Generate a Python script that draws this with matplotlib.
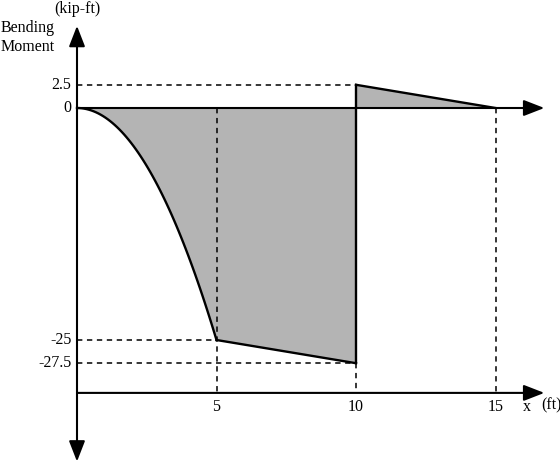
import numpy as np
import matplotlib
matplotlib.use("Agg")
import matplotlib.pyplot as plt

plt.rcParams['font.family'] = ['Liberation Serif', 'DejaVu Serif']

# Data (kip-ft vs ft)
x_para = np.linspace(0, 5, 60)
m_para = -x_para**2            # parabolic segment 0..5 ft
x_lin = [5, 10]
m_lin = [-25, -27.5]
x_pos = [10, 15]
m_pos = [2.5, 0]
y_ticks = [2.5, 0, -25, -27.5]
y_tick_labels = ["2.5", "0", "-25", "-27.5"]
x_ticks = [5, 10, 15]
x_tick_labels = ["5", "10", "15"]

fig = plt.figure(figsize=(5.6, 4.75), dpi=100)
ax = fig.add_axes([0, 0, 1, 1])
ax.set_xlim(-77/27.9, (560-77)/27.9)
ax.set_ylim((108-475)/9.28, 108/9.28)
ax.axis('off')

grey = '#b4b4b4'
lw = 1.7
# fills
xs = np.concatenate([x_para, x_lin[1:]])
ms = np.concatenate([m_para, m_lin[1:]])
ax.fill_between(xs, ms, 0, color=grey, lw=0)
ax.fill_between(x_pos, m_pos, 0, color=grey, lw=0)

# dashed guides
dkw = dict(color='black', lw=1.1, ls=(0, (3.5, 3)))
ybot = -30.7
ax.plot([0, 10], [2.5, 2.5], **dkw)
ax.plot([0, 5], [-25, -25], **dkw)
ax.plot([0, 10], [-27.5, -27.5], **dkw)
ax.plot([5, 5], [0, ybot], **dkw)
ax.plot([10, 10], [-27.5, ybot], **dkw)
ax.plot([15, 15], [0, ybot], **dkw)

# curve
ax.plot(x_para, m_para, color='black', lw=lw)
ax.plot(x_lin, m_lin, color='black', lw=lw)
ax.plot([10, 10], [-27.5, 2.5], color='black', lw=lw)
ax.plot(x_pos, m_pos, color='black', lw=lw)

# axes with arrows
akw = dict(arrowstyle='-|>,head_length=0.9,head_width=0.35', color='black', lw=1.5,
           mutation_scale=14, shrinkA=0, shrinkB=0)
ax.annotate('', xy=(16.75, 0), xytext=(0, 0), arrowprops=akw)
ax.annotate('', xy=(16.75, ybot), xytext=(0, ybot), arrowprops=akw)
ax.annotate('', xy=(0, 8.85), xytext=(0, 0), arrowprops=akw)
ax.annotate('', xy=(0, -38.1), xytext=(0, 0), arrowprops=akw)

fs = 11.5
for v, lab in zip(y_ticks, y_tick_labels):
    ax.text(-0.2, v, lab, ha='right', va='center', fontsize=fs)
for v, lab in zip(x_ticks, x_tick_labels):
    ax.text(v, ybot - 1.55, lab, ha='center', va='center', fontsize=fs)
ax.text(16.13, ybot - 1.55, 'x', ha='center', va='center', fontsize=fs)
ax.text(16.99, ybot - 1.4, '(ft)', ha='center', va='center', fontsize=fs)
ax.text(0, 10.65, '(kip-ft)', ha='center', va='center', fontsize=fs)
ax.text(-2.74, 7.6, 'Bending\nMoment', ha='left', va='center', fontsize=fs,
        linespacing=1.2)

fig.savefig('out.png', dpi=100)
